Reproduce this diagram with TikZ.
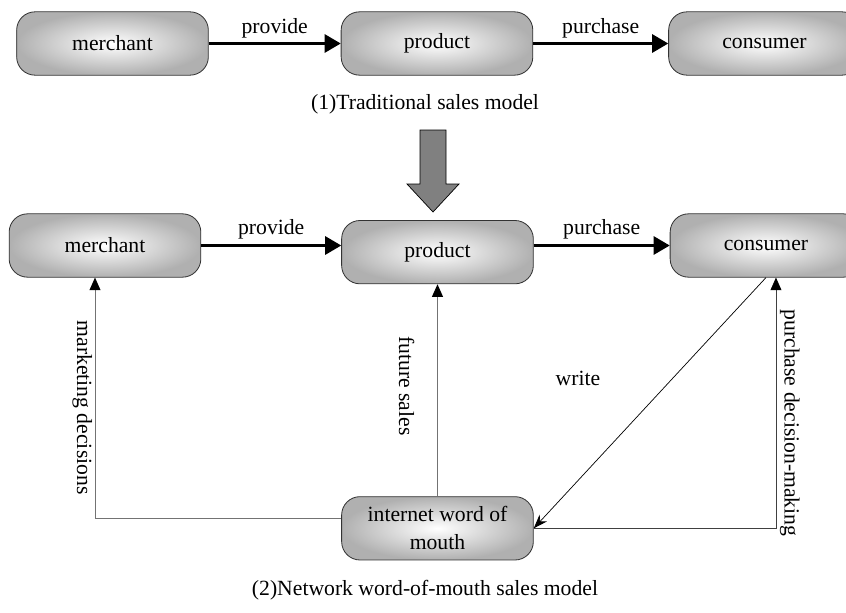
\documentclass[tikz,border=0pt]{standalone}
\usepackage{fontspec}
\setmainfont{Liberation Serif}
\usetikzlibrary{arrows.meta, positioning}

\begin{document}
\begin{tikzpicture}[
    every node/.style={font=\fontsize{18.5}{24}\selectfont},
    box/.style={rectangle, rounded corners=0.55cm, draw=black!80, line width=0.7pt, shading=radial, inner color=white, outer color=gray!62, minimum width=5.75cm, minimum height=1.9cm, align=center},
    flow/.style={-{Triangle[length=0.48cm, width=0.54cm]}, line width=2.3pt},
    feedback/.style={-{Triangle[length=0.38cm, width=0.33cm, color=black]}, draw=black!55, line width=0.8pt},
    writeline/.style={-{Stealth[length=0.42cm, width=0.3cm]}, line width=0.6pt}
]
\useasboundingbox (0,0) rectangle (25.38,-18.36);

% Traditional model
\node[box] (tMerchant) at (3.375,-1.305) {merchant};
\node[box, right=3.96cm of tMerchant] (tProduct) {product};
\node[box, right=4.05cm of tProduct] (tConsumer) {consumer};

\draw[flow] (tMerchant) -- node[above=0pt] (tProvide) {provide} (tProduct);
\draw[flow] (tProduct) -- node[above=0pt] (tPurchase) {purchase} (tConsumer);

\node (capTrad) at (12.75,-3.12) {(1)Traditional sales model};

% big arrow between the two models
\draw[black, fill=gray, line width=0.6pt] (12.6,-3.9) -- (12.6,-5.52) -- (12.21,-5.52) -- (12.99,-6.36)
    -- (13.77,-5.52) -- (13.38,-5.52) -- (13.38,-3.9) -- cycle;

% Network word-of-mouth model
\node[box] (bMerchant) at (3.15,-7.365) {merchant};
\node[box, right=4.2cm of bMerchant, yshift=-0.2cm] (bProduct) {product};
\node[box, right=4.08cm of bProduct, yshift=0.2cm] (bConsumer) {consumer};
\node[box, below=6.36cm of bProduct] (wom) {internet word of\\mouth};

\draw[flow] (bMerchant.east) -- node[above=1pt] (bProvide) {provide} (bMerchant.east -| bProduct.west);
\draw[flow] (bProduct.east |- bConsumer.west) -- node[above=1pt] (bPurchase) {purchase} (bConsumer.west);

% feedback loops
\draw[feedback] ([yshift=0.3cm]wom.west) -| node[pos=0.73, rotate=-90, anchor=north, inner sep=2pt] (lblMarketing) {marketing decisions} ([xshift=-0.3cm]bMerchant.south);
\draw[feedback] (wom) -- (bProduct);
\node[rotate=-90] (lblFuture) at (12.2,-11.58) {future sales};
\draw[writeline] (bConsumer.south) -- (wom.east);
\node (lblWrite) at (17.34,-11.34) {write};
\draw[feedback, draw=black!75, line width=0.6pt] (wom.east) -| node[pos=0.71, rotate=-90, anchor=south, inner sep=3pt] (lblDecision) {purchase decision-making} ([xshift=0.3cm]bConsumer.south);

\node (capNet) at (12.75,-17.7) {(2)Network word-of-mouth sales model};
\end{tikzpicture}
\end{document}
